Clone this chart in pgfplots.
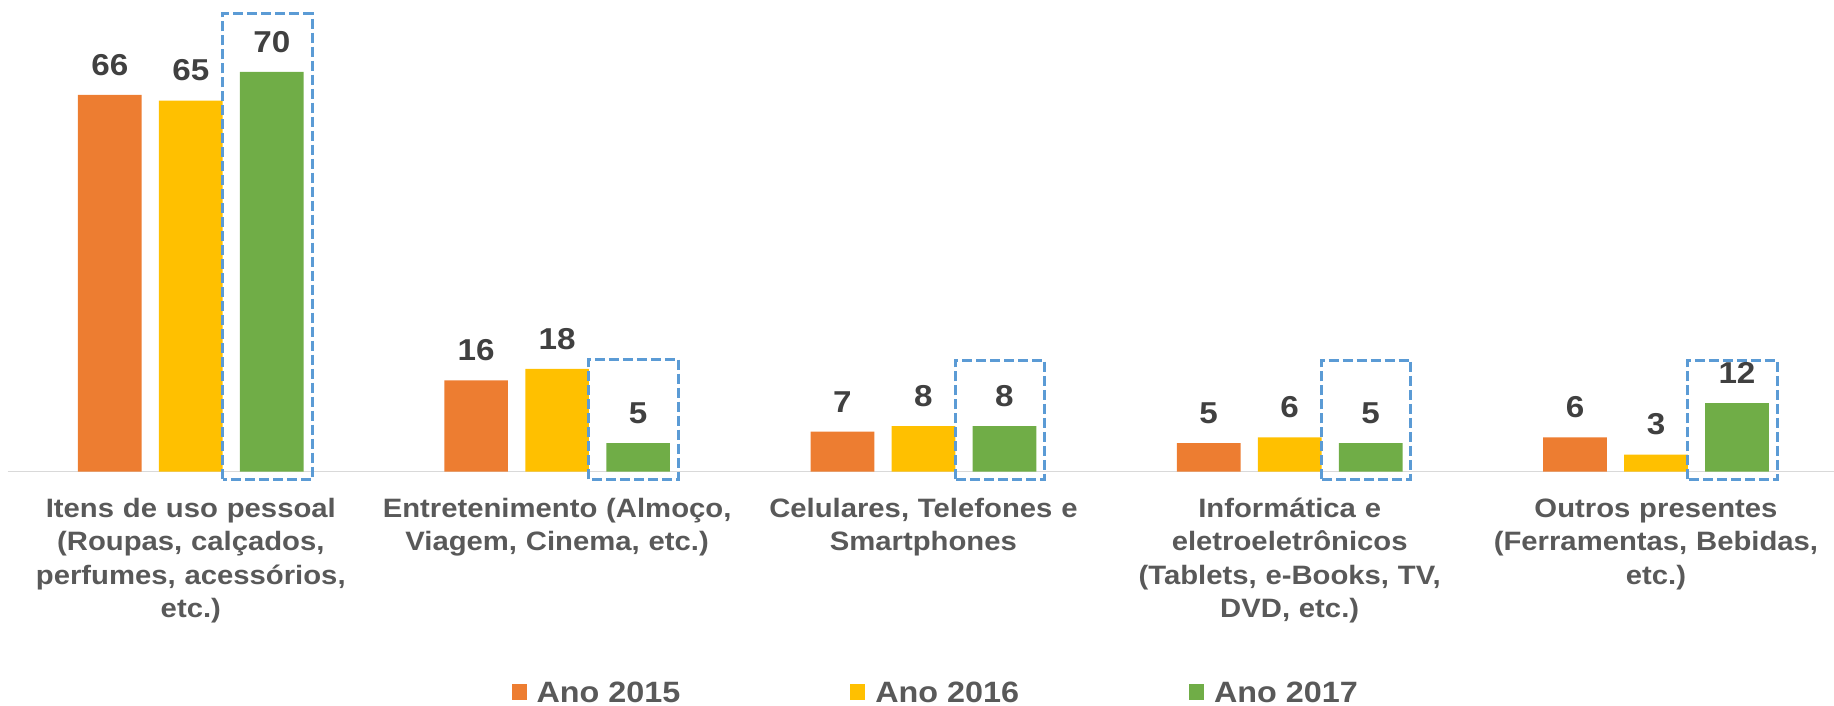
\documentclass[border=0pt]{standalone}
\usepackage{pgfplots}
\pgfplotsset{compat=1.18}
\usepackage{fontspec}
\setmainfont{Liberation Sans}[FakeStretch=1.1]
\definecolor{c15}{HTML}{ED7D31}
\definecolor{c16}{HTML}{FFC000}
\definecolor{c17}{HTML}{70AD47}
\definecolor{lbl}{HTML}{404040}
\definecolor{cat}{HTML}{595959}
\definecolor{axl}{HTML}{D9D9D9}
\definecolor{boxc}{HTML}{5B9BD5}
\begin{document}
\begin{tikzpicture}
\begin{axis}[
  name=ax,
  /pgf/number format/assume math mode=true,
  scale only axis, width=913.2pt, height=235.85pt,
  xmin=-0.5, xmax=4.486, ymin=0, ymax=82.6,
  ybar=8.65pt, bar width=31.85pt,
  axis x line*=bottom, axis y line=none,
  x axis line style={draw=axl, line width=0.75pt, -},
  xtick={0,1,2,3,4}, major tick length=0pt, xtick style={draw=none},
  xticklabels={{Itens de uso pessoal\\(Roupas, calçados,\\perfumes, acessórios,\\etc.)},
               {Entretenimento (Almoço,\\Viagem, Cinema, etc.)},
               {Celulares, Telefones e\\Smartphones},
               {Informática e\\eletroeletrônicos\\(Tablets, e-Books, TV,\\DVD, etc.)},
               {Outros presentes\\(Ferramentas, Bebidas,\\etc.)}},
  xticklabel style={anchor=base, yshift=-22.8pt, text width=340pt, align=center,
     font=\fontsize{13.3}{16.75}\selectfont\bfseries, text=cat, inner sep=0pt},
  clip=false,
  nodes near coords={\pgfmathprintnumber[assume math mode=true]{\pgfplotspointmeta}},
  every node near coord/.append style={anchor=south, yshift=9.5pt, inner sep=0pt,
     font=\fontsize{15.1}{18}\selectfont\bfseries, text=lbl},
  legend columns=3,
  legend image code/.code={\fill[#1] (0pt,-3.8pt) rectangle (7.5pt,4.2pt);},
  legend style={at={(0.2759,-0.4897)}, anchor=south west, draw=none, fill=none,
     inner sep=0pt, outer sep=0pt,
     nodes={inner sep=0pt, text depth=0pt},
     font=\fontsize{14.7}{17}\selectfont\bfseries, text=cat,
     /tikz/every odd column/.append style={column sep=5pt},
     /tikz/every even column/.append style={column sep=85pt}},
]
\addplot[fill=c15, draw=none] coordinates {(0,66) (1,16) (2,7) (3,5) (4,6)};
\addplot[fill=c16, draw=none] coordinates {(0,65) (1,18) (2,8) (3,6) (4,3)};
\addplot[fill=c17, draw=none] coordinates {(0,70) (1,5) (2,8) (3,5) (4,12)};
\legend{Ano 2015, Ano 2016, Ano 2017}
\draw[boxc, line width=1.5pt, dash pattern=on 5pt off 2pt] (axis cs:0.087,-1.33) rectangle (axis cs:0.331,80.2);
\draw[boxc, line width=1.5pt, dash pattern=on 5pt off 2pt] (axis cs:1.087,-1.33) rectangle (axis cs:1.331,19.7);
\draw[boxc, line width=1.5pt, dash pattern=on 5pt off 2pt] (axis cs:2.087,-1.33) rectangle (axis cs:2.331,19.5);
\draw[boxc, line width=1.5pt, dash pattern=on 5pt off 2pt] (axis cs:3.087,-1.33) rectangle (axis cs:3.331,19.5);
\draw[boxc, line width=1.5pt, dash pattern=on 5pt off 2pt] (axis cs:4.087,-1.33) rectangle (axis cs:4.331,19.5);
\coordinate (BL) at (axis cs:-0.521,-41.03);
\coordinate (TR) at (axis cs:4.486,82.6);
\end{axis}
\pgfresetboundingbox
\useasboundingbox (BL) rectangle (TR);
\end{tikzpicture}
\end{document}
